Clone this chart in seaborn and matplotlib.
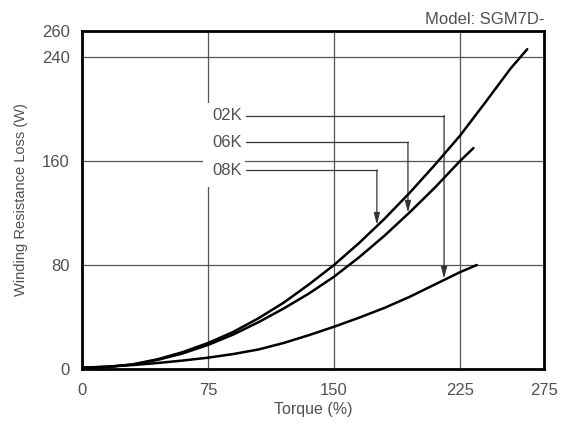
import numpy as np
import pandas as pd
import matplotlib
matplotlib.use('Agg')
import matplotlib.pyplot as plt
import seaborn as sns
from matplotlib.patches import Rectangle

# moment (%) i straty w uzwojeniu (W)
torque_08k = [0, 15, 30, 45, 60, 75, 90, 105, 120, 135, 150, 165, 180, 195, 210, 225, 240, 255, 265]
loss_08k = [1, 1.6, 3.5, 7.5, 13, 20, 28.5, 39, 51, 65, 80, 97, 115.5, 135.5, 157, 179.5, 205, 231, 246]

torque_06k = [0, 15, 30, 45, 60, 75, 90, 105, 120, 135, 150, 165, 180, 195, 210, 225, 233]
loss_06k = [1, 1.6, 3.4, 7, 12, 18.5, 26.5, 36, 46.5, 58, 71, 86, 102.5, 120.5, 139.5, 160, 170]

torque_02k = [0, 15, 30, 45, 60, 75, 90, 105, 120, 135, 150, 165, 180, 195, 210, 225, 235]
loss_02k = [1, 1.8, 3, 4.6, 6.5, 8.7, 11.5, 15, 20, 26, 32.5, 39.5, 47, 55.5, 65, 74.5, 80]

models = ['02K', '06K', '08K']
label_y = [195, 174.5, 153]
arrow_x = [215.5, 194, 175.5]

x_ticks = [0, 75, 150, 225, 275]
y_ticks = [0, 80, 160, 240, 260]

df = pd.concat([
    pd.DataFrame({'torque': torque_02k, 'loss': loss_02k, 'model': '02K'}),
    pd.DataFrame({'torque': torque_06k, 'loss': loss_06k, 'model': '06K'}),
    pd.DataFrame({'torque': torque_08k, 'loss': loss_08k, 'model': '08K'}),
])

sns.set_style('white')
plt.rcParams['font.family'] = ['Liberation Sans', 'DejaVu Sans']
txt = '#505050'

fig = plt.figure(figsize=(5.63, 4.25), dpi=100)
ax = fig.add_axes([0.1457, 0.1318, 0.8206, 0.7952])

sns.lineplot(data=df, x='torque', y='loss', hue='model', units='model', estimator=None,
             palette={'02K': 'black', '06K': 'black', '08K': 'black'},
             linewidth=1.8, legend=False, sort=False, ax=ax, zorder=3)

ax.set_xlim(0, 275)
ax.set_ylim(0, 260)
ax.set_xticks(x_ticks)
ax.set_yticks(y_ticks)
ax.tick_params(length=0, labelsize=12, labelcolor=txt)
ax.tick_params(axis='x', pad=10)
ax.tick_params(axis='y', pad=9)
ax.set_axisbelow(True)
ax.grid(True, color='#555555', linewidth=0.9)
for s in ax.spines.values():
    s.set_color('black')
    s.set_linewidth(2)

ax.set_xlabel('Torque (%)', fontsize=11.5, color=txt, labelpad=3)
ax.set_ylabel('Winding Resistance Loss (W)', fontsize=10.5, color=txt, labelpad=10)
ax.text(1.0, 1.012, 'Model: SGM7D-', transform=ax.transAxes, ha='right', va='bottom',
        fontsize=12, color=txt)

# biale tlo pod etykietami
ax.add_patch(Rectangle((72, 140), 25, 65, facecolor='white', edgecolor='none', zorder=1))

curves = {'02K': (torque_02k, loss_02k), '06K': (torque_06k, loss_06k), '08K': (torque_08k, loss_08k)}
for m, ly, axx in zip(models, label_y, arrow_x):
    tx, ty = curves[m]
    tip = np.interp(axx, tx, ty)
    ax.text(95, ly, m, ha='right', va='center', fontsize=12, color=txt, zorder=4)
    ax.plot([97.5, axx], [ly, ly], color='#333333', linewidth=0.9, zorder=2)
    ax.annotate('', xy=(axx, tip + 1), xytext=(axx, ly),
                arrowprops=dict(arrowstyle='-|>,head_length=0.7,head_width=0.18',
                                color='#333333', linewidth=0.9, shrinkA=0, shrinkB=0,
                                mutation_scale=10), zorder=2)

fig.savefig('out.png', dpi=100)
